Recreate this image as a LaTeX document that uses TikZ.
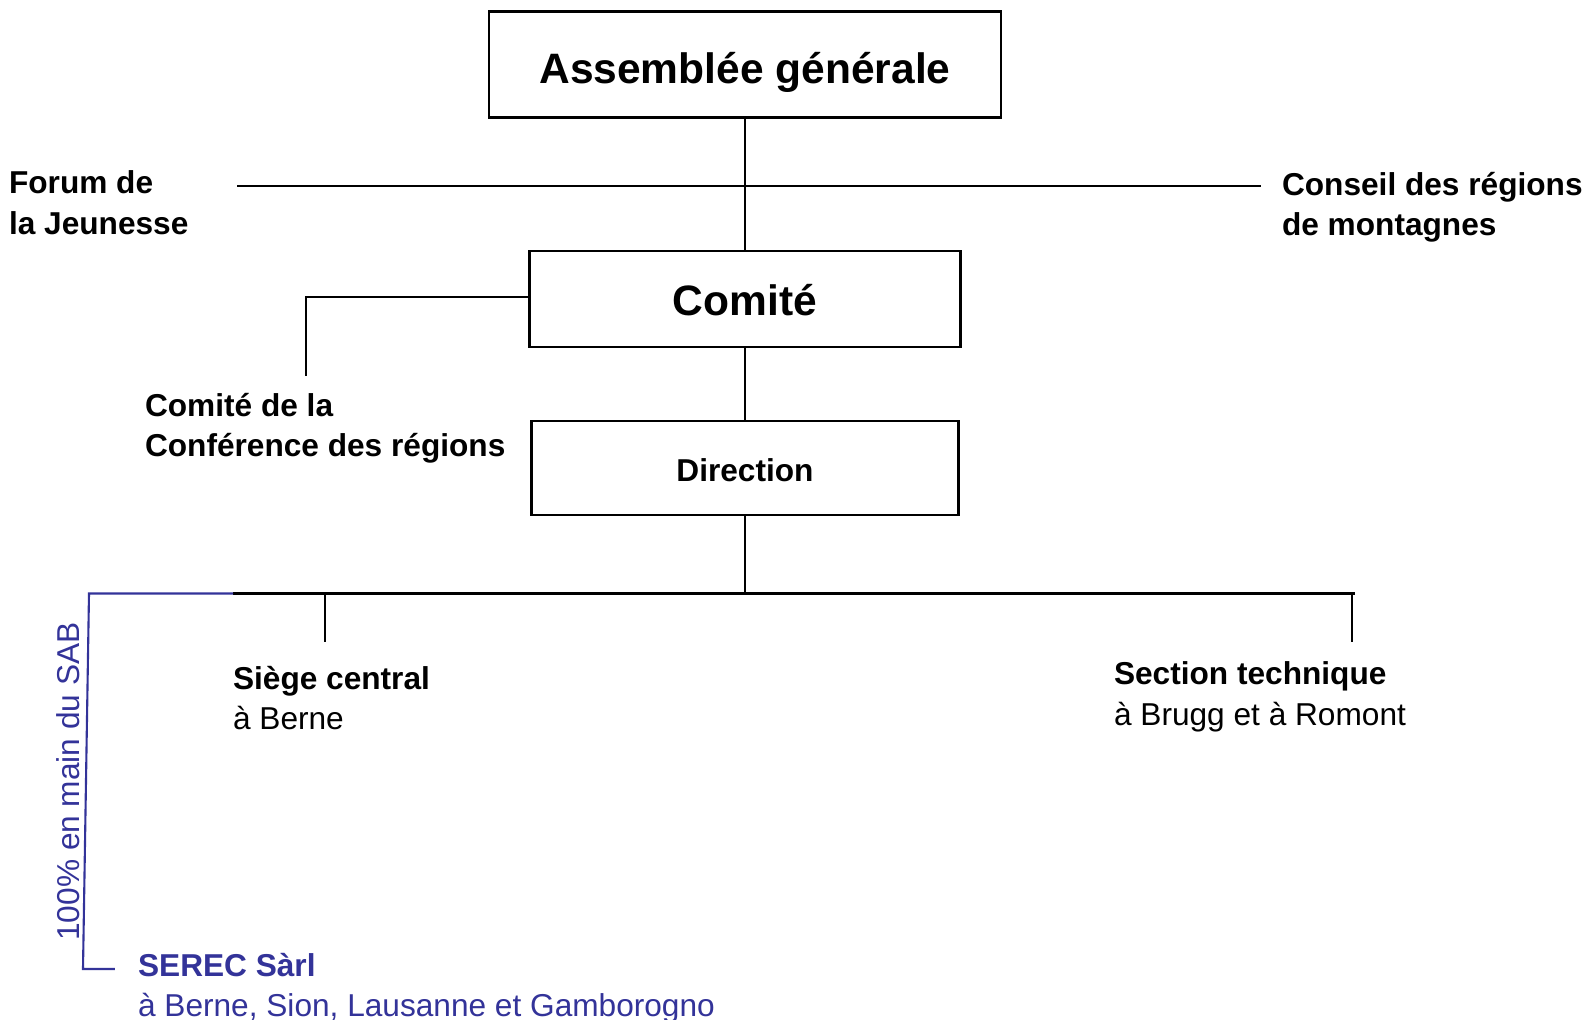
\documentclass[tikz,border=0pt]{standalone}
\usepackage{fontspec}
\setmainfont{Liberation Sans}
\usetikzlibrary{positioning}
\definecolor{serec}{RGB}{51,51,153}

\tikzset{
	box/.style = {draw, line width=0.6pt, inner sep=0pt, text depth=0pt, font=\bfseries\fontsize{12.1}{14}\selectfont},
	txt/.style = {inner sep=0pt, align=left, anchor=north west, font=\fontsize{9}{11.4}\selectfont},
}

\begin{document}
\begin{tikzpicture}[line width=0.6pt]
	\useasboundingbox (0,0) rectangle (15.92,-10.20);

	\node [box, minimum width=5.12cm, minimum height=1.06cm, text height=0.372cm] (ag) at (7.45,-0.645) {Assemblée générale};
	\node [box, minimum width=4.31cm, minimum height=0.965cm, text height=0.33cm, below = 1.31cm of ag] (comite) {Comité};
	\node [box, minimum width=4.27cm, minimum height=0.94cm, text height=0.26cm, below = 0.72cm of comite, font=\bfseries\fontsize{9}{11.4}\selectfont] (direction) {Direction};

	\node [txt] (forum) at (0.08,-1.70) {\textbf{Forum de}\\\textbf{la Jeunesse}};
	\node [txt] (conseil) at (12.81,-1.715) {\textbf{Conseil des régions}\\\textbf{de montagnes}};
	\node [txt] (ccr) at (1.44,-3.925) {\textbf{Comité de la}\\\textbf{Conférence des régions}};
	\node [txt] (siege) at (2.32,-6.655) {\textbf{Siège central}\\à Berne};
	\node [txt] (section) at (11.13,-6.61) {\textbf{Section technique}\\à Brugg et à Romont};
	\node [txt, text=serec] (serec) at (1.37,-9.52) {\textbf{SEREC Sàrl}\\à Berne, Sion, Lausanne et Gamborogno};
	\node [txt, anchor=center, text=serec, rotate=90] (sab) at (0.68,-7.815) {100\% en main du SAB};

	\coordinate (fj) at (2.37,-1.86);
	\coordinate (cm) at (12.61,-1.86);
	\coordinate (cc) at (3.06,-3.76);
	\coordinate (bl) at (0.89,-5.935);
	\coordinate (bm) at (2.33,-5.935);
	\coordinate (br) at (13.55,-5.935);
	\coordinate (st) at (3.25,-6.42);
	\coordinate (tt) at (13.52,-6.42);
	\coordinate (sb) at (0.83,-9.69);
	\coordinate (se) at (1.15,-9.69);

	\draw (ag) -- (comite);
	\draw (fj) -- (cm);
	\draw ([yshift=0.02cm]comite.west) -| (cc);
	\draw (comite) -- (direction);
	\draw (direction) -- (direction |- br);
	\draw (bm) -- (br);
	\draw (st) -- (st |- br);
	\draw (tt) -- (tt |- br);
	\draw [serec] (bm) -- (bl) -- (sb) -- (se);
\end{tikzpicture}
\end{document}
